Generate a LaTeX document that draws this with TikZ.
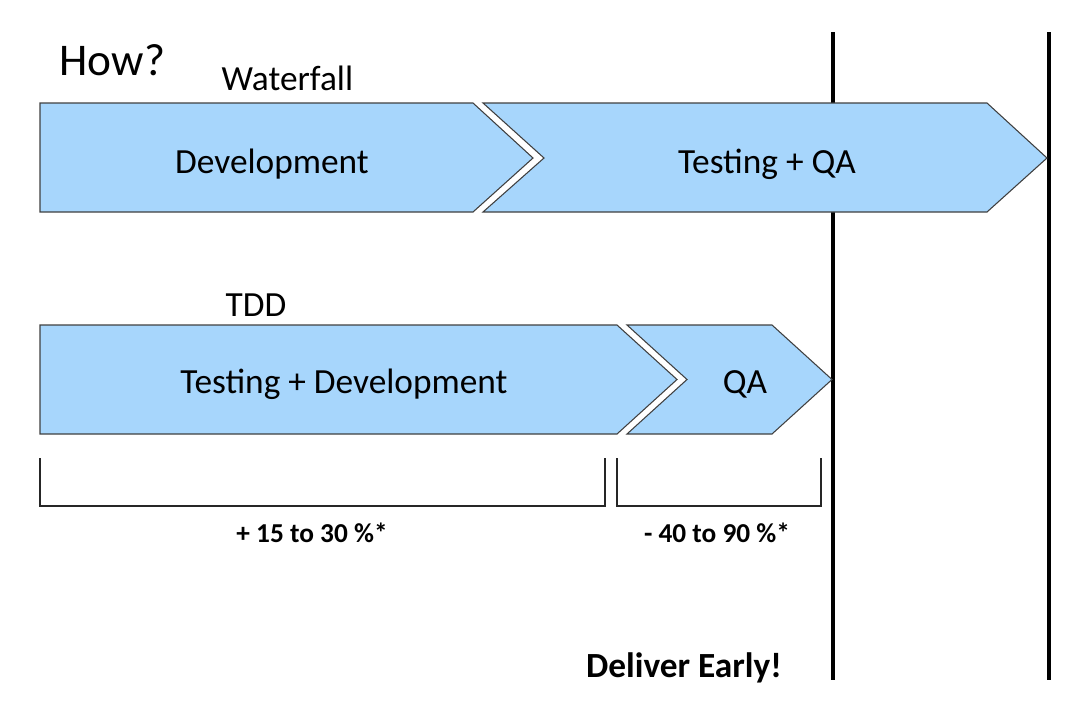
\documentclass[tikz,border=0pt]{standalone}
\usepackage{fontspec}
\setmainfont{Carlito}
\usetikzlibrary{positioning}
\usepackage{xcolor}
\definecolor{phaseblue}{RGB}{167,214,252}

\begin{document}
\begin{tikzpicture}[x=0.75pt, y=-0.75pt,
  phase/.style={draw=black!75, fill=phaseblue, line width=0.8pt},
  phasetext/.style={font=\fontsize{26.5}{30}\selectfont, anchor=base},
  pct/.style={font=\bfseries\fontsize{20.5}{24}\selectfont, anchor=base},
  deadline/.style={line width=3pt},
  bracket/.style={line width=1.9pt, black!85}]
  \useasboundingbox (0,0) rectangle (1072,704);

  \draw[deadline] (832.5,32) -- (832.5,680);
  \draw[deadline] (1048.5,32) -- (1048.5,680);

  \node[font=\fontsize{34}{40}\selectfont, anchor=base west] (how) at (55,75) {How?};
  \node[phasetext, anchor=base west] (waterfall) at (217,90) {Waterfall};
  \node[phasetext, anchor=base west] (tdd) at (221,316) {TDD};

  \draw[phase] (40,103) -- (473,103) -- (533,158) -- (473,212) -- (40,212) -- cycle;
  \draw[phase] (483,103) -- (987,103) -- (1047,158) -- (987,212) -- (483,212) -- (544,158) -- cycle;
  \node[phasetext] (dev) at (272,173) {Development};
  \node[phasetext] (testqa) at (767,173) {Testing + QA};

  \draw[phase] (40,325) -- (617,325) -- (677,379.5) -- (617,434) -- (40,434) -- cycle;
  \draw[phase] (627,325) -- (772,325) -- (832,379.5) -- (772,434) -- (627,434) -- (687,379.5) -- cycle;
  \node[phasetext] (testdev) at (344,393) {Testing + Development};
  \node[phasetext] (qa) at (745,393) {QA};

  \draw[bracket] (40,458) |- (605,506) -- (605,458);
  \draw[bracket] (617,458) |- (821,506) -- (821,458);
  \node[pct] (gain) at (312,542) {+ 15 to 30 \%*};
  \node[pct] (cut) at (717,542) {- 40 to 90 \%*};

  \node[font=\bfseries\fontsize{26.5}{30}\selectfont, anchor=base] (early) at (684,677) {Deliver Early!};
\end{tikzpicture}
\end{document}
